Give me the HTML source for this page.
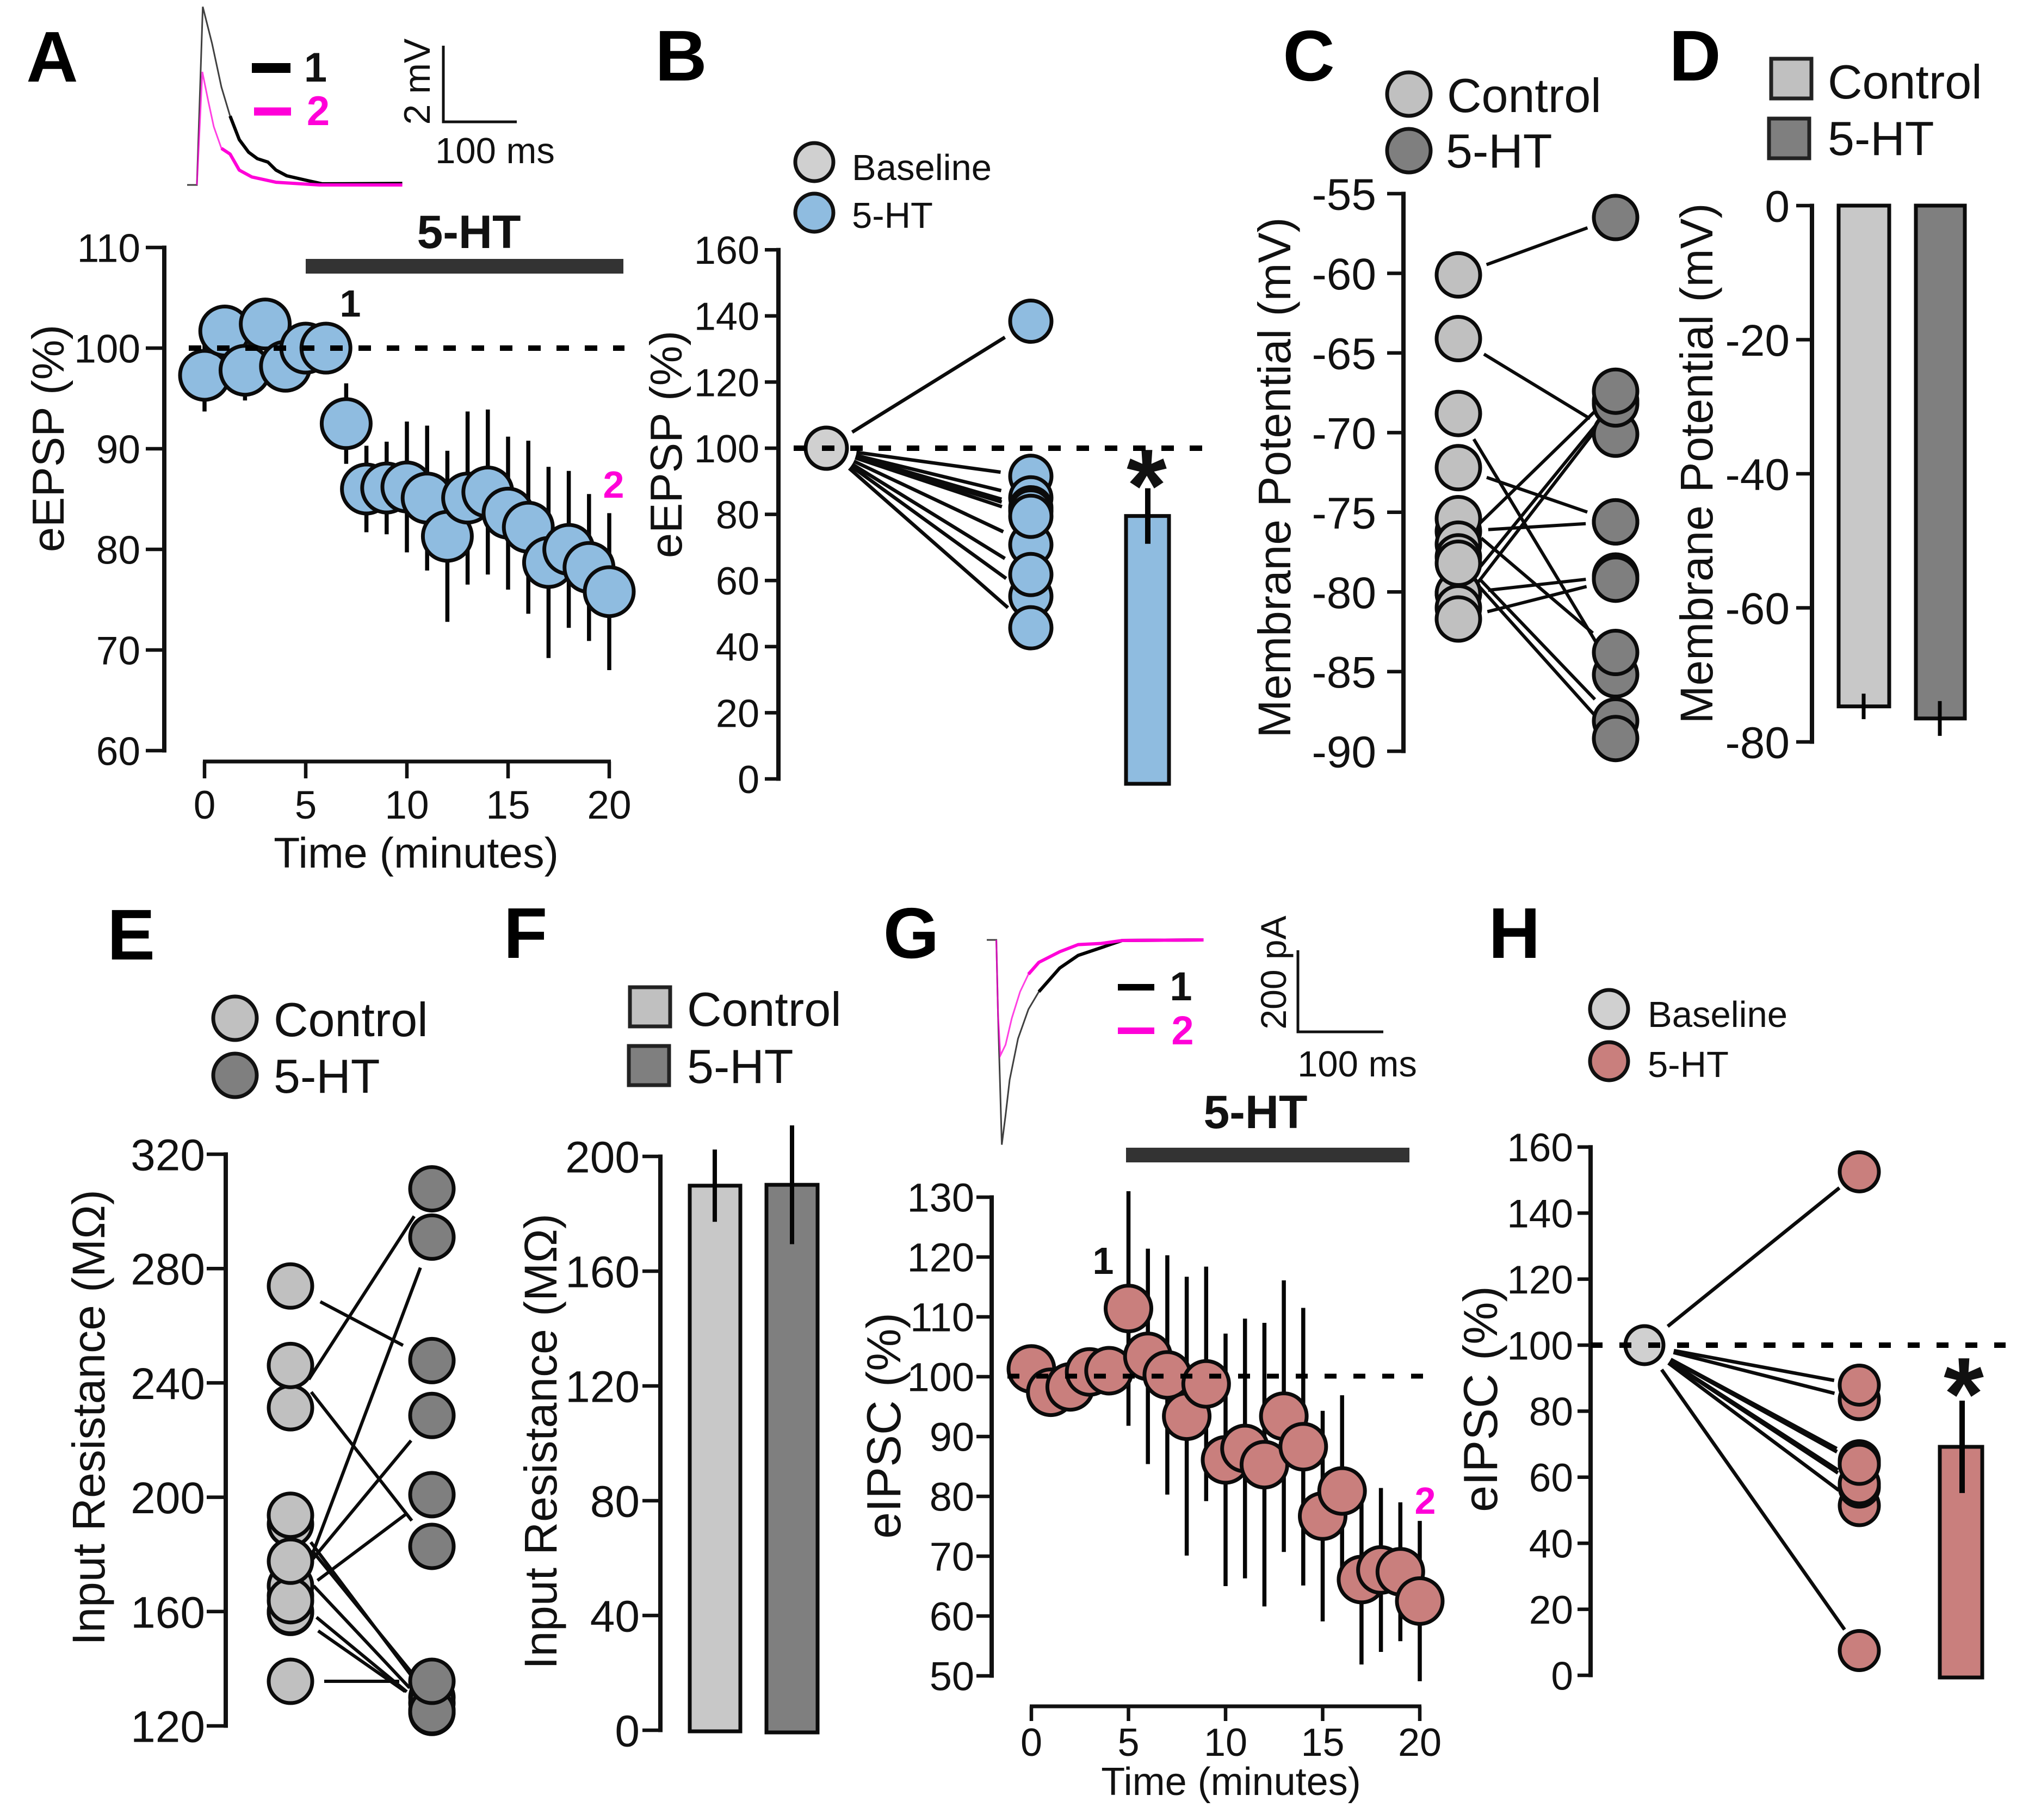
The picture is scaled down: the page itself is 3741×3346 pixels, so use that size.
<!DOCTYPE html>
<html lang="en">
<head>
<meta charset="utf-8">
<title>5-HT effects on eEPSP and eIPSC</title>
<style>
html,body{margin:0;padding:0;background:#fff;}
svg{display:block;}
text{font-family:"Liberation Sans",sans-serif;fill:#111;}
.letter{font-size:132px;font-weight:700;fill:#000;}
.bold{font-weight:700;}
.pink{fill:#ff00d8;}
</style>
</head>
<body>
<svg id="figure" xmlns="http://www.w3.org/2000/svg" width="3741" height="3346" viewBox="0 0 3741 3346">
<rect x="0" y="0" width="3741" height="3346" fill="#ffffff"/>

<g id="panel-a">
  <text class="letter" x="96" y="150" text-anchor="middle">A</text>
  <line x1="463" y1="125" x2="534" y2="125" stroke="#000" stroke-width="18"/>
  <text class="bold" x="580" y="150" font-size="76" text-anchor="middle">1</text>
  <line x1="467" y1="205" x2="535" y2="205" stroke="#ff00d8" stroke-width="15"/>
  <text class="bold pink" x="585" y="230" font-size="76" text-anchor="middle">2</text>
  <path d="M815 84V224H950" fill="none" stroke="#111" stroke-width="5"/>
  <text x="790" y="150" font-size="68" text-anchor="middle" transform="rotate(-90 790 150)">2 mV</text>
  <text x="910" y="300" font-size="67" text-anchor="middle">100 ms</text>
  <rect x="562" y="476" width="584" height="27" fill="#333"/>
  <text class="bold" x="862" y="456" font-size="86" text-anchor="middle">5-HT</text>
  <text class="bold" x="644" y="582" font-size="70" text-anchor="middle">1</text>
  <text class="bold pink" x="1128" y="915" font-size="70" text-anchor="middle">2</text>
  <text x="117" y="806" font-size="83" text-anchor="middle" transform="rotate(-90 117 806)">eEPSP (%)</text>
  <text x="765" y="1595" font-size="79" text-anchor="middle">Time (minutes)</text>
</g>

<g id="panel-b">
  <text class="letter" x="1252" y="148" text-anchor="middle">B</text>
  <circle cx="1497" cy="298" r="35" fill="#d0d0d0" stroke="#111" stroke-width="7"/>
  <circle cx="1497" cy="391" r="35" fill="#8fbce0" stroke="#111" stroke-width="7"/>
  <text x="1566" y="331" font-size="67">Baseline</text>
  <text x="1566" y="419" font-size="67">5-HT</text>
  <text x="1253" y="817" font-size="83" text-anchor="middle" transform="rotate(-90 1253 817)">eEPSP (%)</text>
  <text class="bold" x="2108" y="958" font-size="190" text-anchor="middle">*</text>
</g>

<g id="panel-c">
  <text class="letter" x="2406" y="148" text-anchor="middle">C</text>
  <circle cx="2590" cy="173" r="40" fill="#c0c0c0" stroke="#111" stroke-width="7"/>
  <circle cx="2590" cy="277" r="40" fill="#7f7f7f" stroke="#111" stroke-width="7"/>
  <text x="2660" y="206" font-size="88">Control</text>
  <text x="2658" y="308" font-size="88">5-HT</text>
  <text x="2372" y="878" font-size="84" text-anchor="middle" transform="rotate(-90 2372 878)">Membrane Potential (mV)</text>
</g>

<g id="panel-d">
  <text class="letter" x="3116" y="148" text-anchor="middle">D</text>
  <rect x="3256" y="108" width="74" height="73" fill="#c0c0c0" stroke="#222" stroke-width="7"/>
  <rect x="3252" y="218" width="74" height="73" fill="#7f7f7f" stroke="#222" stroke-width="7"/>
  <text x="3360" y="181" font-size="88">Control</text>
  <text x="3360" y="285" font-size="88">5-HT</text>
  <text x="3148" y="852" font-size="84" text-anchor="middle" transform="rotate(-90 3148 852)">Membrane Potential (mV)</text>
</g>

<g id="panel-e">
  <text class="letter" x="241" y="1764" text-anchor="middle">E</text>
  <circle cx="432" cy="1872" r="40" fill="#c0c0c0" stroke="#111" stroke-width="7"/>
  <circle cx="432" cy="1977" r="40" fill="#7f7f7f" stroke="#111" stroke-width="7"/>
  <text x="503" y="1905" font-size="88">Control</text>
  <text x="503" y="2009" font-size="88">5-HT</text>
  <text x="192" y="2606" font-size="84" text-anchor="middle" transform="rotate(-90 192 2606)">Input Resistance (MΩ)</text>
</g>

<g id="panel-f">
  <text class="letter" x="966" y="1761" text-anchor="middle">F</text>
  <rect x="1158" y="1815" width="74" height="72" fill="#c0c0c0" stroke="#222" stroke-width="7"/>
  <rect x="1156" y="1923" width="74" height="72" fill="#7f7f7f" stroke="#222" stroke-width="7"/>
  <text x="1263" y="1886" font-size="88">Control</text>
  <text x="1263" y="1991" font-size="88">5-HT</text>
  <text x="1023" y="2650" font-size="84" text-anchor="middle" transform="rotate(-90 1023 2650)">Input Resistance (MΩ)</text>
</g>

<g id="panel-g">
  <text class="letter" x="1675" y="1761" text-anchor="middle">G</text>
  <line x1="2055" y1="1815" x2="2122" y2="1815" stroke="#000" stroke-width="12"/>
  <text class="bold" x="2171" y="1839" font-size="74" text-anchor="middle">1</text>
  <line x1="2055" y1="1895" x2="2122" y2="1895" stroke="#ff00d8" stroke-width="12"/>
  <text class="bold pink" x="2174" y="1920" font-size="74" text-anchor="middle">2</text>
  <path d="M2386 1747V1897H2543" fill="none" stroke="#111" stroke-width="5"/>
  <text x="2364" y="1788" font-size="66" text-anchor="middle" transform="rotate(-90 2364 1788)">200 pA</text>
  <text x="2495" y="1979" font-size="67" text-anchor="middle">100 ms</text>
  <rect x="2070" y="2110" width="521" height="27" fill="#333"/>
  <text class="bold" x="2308" y="2074" font-size="86" text-anchor="middle">5-HT</text>
  <text class="bold" x="2028" y="2342" font-size="70" text-anchor="middle">1</text>
  <text class="bold pink" x="2620" y="2783" font-size="70" text-anchor="middle">2</text>
  <text x="1655" y="2621" font-size="88" text-anchor="middle" transform="rotate(-90 1655 2621)">eIPSC (%)</text>
  <text x="2263" y="3300" font-size="72" text-anchor="middle">Time (minutes)</text>
</g>

<g id="panel-h">
  <text class="letter" x="2784" y="1761" text-anchor="middle">H</text>
  <circle cx="2958" cy="1855" r="35" fill="#d0d0d0" stroke="#111" stroke-width="7"/>
  <circle cx="2958" cy="1951" r="35" fill="#c97f7d" stroke="#111" stroke-width="7"/>
  <text x="3029" y="1888" font-size="67">Baseline</text>
  <text x="3029" y="1980" font-size="67">5-HT</text>
  <text x="2752" y="2572" font-size="88" text-anchor="middle" transform="rotate(-90 2752 2572)">eIPSC (%)</text>
  <text class="bold" x="3610" y="2628" font-size="190" text-anchor="middle">*</text>
</g>
</svg>

<script>
// ---- Panel A data ----
const aTimes = [0,1,2,3,4,5,6,7,8,9,10,11,12,13,14,15,16,17,18,19,20];
const aValues = [97.3,101.7,97.8,102.4,98.2,100,100,92.5,86,86.1,86.2,85.1,81.3,85.1,85.7,83.6,82.2,78.7,80,78.2,75.8];
const aErrors = [3.6,2,3,2,2.5,1.5,1.5,4,4.3,4.6,6.5,7.2,8.5,8.6,8.2,7.6,8.6,9.5,7.8,7.3,7.8];
const aYTicks = [60,70,80,90,100,110];
const aXTicks = [0,5,10,15,20];
const aTrace1Ms = [0,13.3,21.3,34,46.7,58.5,71,83.7,95.6,110,121,135.6,165,184,293];
const aTrace1Mv = [0,0,4.68,3.71,2.57,1.81,1.19,0.86,0.69,0.6,0.39,0.24,0.11,0.03,0.04];
const aTrace2Ms = [13.3,20.7,28.9,36.3,46.7,58.5,71,88,121,180,293];
const aTrace2Mv = [0,2.97,2.19,1.53,0.96,0.81,0.39,0.21,0.07,0,0];

// ---- Panel B data ----
const bYTicks = [0,20,40,60,80,100,120,140,160];
const bSerotonin = [138.4,91.5,85,82,81,70.8,55.2,79.4,61.8,45.7];
const bBaseline = 100;
const bMean = 79.5;
const bSem = 8.4;

// ---- Panel C data ----
const cYTicks = [-55,-60,-65,-70,-75,-80,-85,-90];
const cControl = [-60.1,-64.1,-68.8,-72.2,-76.2,-80.1,-80.1,-81,-75.4,-77,-77.8,-78.2,-81.7];
const cSerotonin = [-56.5,-70.1,-85.2,-75.6,-75.6,-79,-68,-68.2,-83.8,-67.4,-88.1,-89.2,-79.2];

// ---- Panel D data ----
const dYTicks = [0,-20,-40,-60,-80];
const dMeans = [-74.7,-76.5];
const dSems = [1.9,2.6];

// ---- Panel E data ----
const eYTicks = [120,160,200,240,280,320];
const eControl = [231.3,246.1,273.9,159.7,160,165.5,169,163.8,190.6,193.7,177.6,135.6];
const eSerotonin = [307.9,182.8,247.8,291,125.5,124.7,228.6,200.9,130,128,125,135.6];

// ---- Panel F data ----
const fYTicks = [0,40,80,120,160,200];
const fMeans = [189.8,190.1];
const fSems = [12.6,20.7];

// ---- Panel G data ----
const gTimes = [0,1,2,3,4,5,6,7,8,9,10,11,12,13,14,15,16,17,18,19,20];
const gValues = [101.3,97.4,98.3,100.8,101,111.4,103.4,100.3,93.4,98.8,86.1,88,85.3,93.4,88.3,76.7,80.9,66.1,67.7,67.4,62.5];
const gErrors = [2,2,2,2,2,19.6,18,20,23.3,19.6,21.1,21.7,23.7,22.7,23.2,17.6,16,14.2,13.7,11.6,13.4];
const gYTicks = [50,60,70,80,90,100,110,120,130];
const gXTicks = [0,5,10,15,20];
const gTrace1Ms = [0,11.2,13.2,17.6,22,26.8,36.6,48.8,61,85.4,107,134,158.5,253.7];
const gTrace1Pa = [0,0,-185,-502,-430,-343,-242,-170,-127,-69,-38,-19,-1.4,0];
const gTrace2Ms = [11.2,13.2,16,22,29.3,39,48.8,61,85.4,107,134,158.5,253.7];
const gTrace2Pa = [0,-185,-283,-257,-192,-127,-84,-55,-29,-11.5,-8.7,-1.4,0];

// ---- Panel H data ----
const hYTicks = [0,20,40,60,80,100,120,140,160];
const hSerotonin = [152.5,83.5,87.9,51.4,57,58,65,64,63.9,7.5];
const hBaseline = 100;
const hMean = 69.2;
const hSem = 14;

// ---- Axis functions ----
const aX = t => 376 + t * 37.2;
const aY = v => 640 - (v - 100) * 18.5;
const bY = v => 1432 - v * 6.08;
const cY = v => 356 + (-55 - v) * 29.29;
const dY = v => 378 - v * 12.325;
const eY = v => 3173 - (v - 120) * 5.255;
const fY = v => 3181 - v * 5.275;
const gX = t => 1896 + t * 35.7;
const gY = v => 2531 - (v - 100) * 11.0;
const hY = v => 3080 - v * 6.07;

const NS = 'http://www.w3.org/2000/svg';
const INK = '#111';
const BLUE = '#8fbce0';
const ROSE = '#c97f7d';
const GREY = '#d0d0d0';
const LIGHT = '#c0c0c0';
const DARK = '#7f7f7f';

function mk(parent, tag, props) {
  const el = document.createElementNS(NS, tag);
  for (const k in props) el.setAttribute(k, props[k]);
  parent.appendChild(el);
  return el;
}

function yAxis(g, ticks, y, axisX, tickLeft, labelRight, fontSize) {
  const ys = ticks.map(y);
  const spine = mk(g, 'line', {x1: axisX, x2: axisX, y1: Math.min(...ys) - 3.5, y2: Math.max(...ys) + 3.5, stroke: INK, 'stroke-width': 8});
  
  
  ticks.forEach(v => {
    const tick = mk(g, 'line', {x1: tickLeft, x2: axisX, y1: y(v), y2: y(v), stroke: INK, 'stroke-width': 6.5});
    
    
    const label = mk(g, 'text', {x: labelRight, y: y(v) + fontSize * 0.36, 'font-size': fontSize, 'text-anchor': 'end'});
    label.textContent = String(v);
    
    
  });
}

function xAxis(g, ticks, x, axisY, tickBottom, labelBase, fontSize) {
  const xs = ticks.map(x);
  const spine = mk(g, 'line', {x1: Math.min(...xs) - 3, x2: Math.max(...xs) + 3, y1: axisY, y2: axisY, stroke: INK, 'stroke-width': 7});
  
  
  ticks.forEach(t => {
    const tick = mk(g, 'line', {x1: x(t), x2: x(t), y1: axisY, y2: tickBottom, stroke: INK, 'stroke-width': 6.5});
    
    
    const label = mk(g, 'text', {x: x(t), y: labelBase, 'font-size': fontSize, 'text-anchor': 'middle'});
    label.textContent = String(t);
    
    
  });
}

function dashLine(g, x1, x2, y, on, off, width) {
  const el = mk(g, 'line', {x1: x1, x2: x2, y1: y, y2: y, stroke: '#000', 'stroke-width': width, 'stroke-dasharray': on + ' ' + off});
  
  
}

function errorBar(g, cx, y, mean, sem, width) {
  const el = mk(g, 'line', {x1: cx, x2: cx, y1: y(mean + sem), y2: y(mean - sem), stroke: '#050505', 'stroke-width': width});
  
  
}

function point(g, cx, cy, r, fill) {
  const el = mk(g, 'circle', {cx: cx, cy: cy, r: r, fill: fill, stroke: '#0b0b0b', 'stroke-width': 7});
  
  
}

function bar(g, left, right, baseY, topY, fill) {
  const el = mk(g, 'rect', {x: left, y: Math.min(baseY, topY), width: right - left, height: Math.abs(baseY - topY), fill: fill, stroke: '#0b0b0b', 'stroke-width': 7});
  
  
}

// Paired line with a clear gap (measured along the line) next to each marker.
function pairLine(g, xA, xB, yA, yB, gapA, gapB, width) {
  const len = Math.hypot(xB - xA, yB - yA);
  const ux = (xB - xA) / len, uy = (yB - yA) / len;
  const el = mk(g, 'line', {x1: xA + ux * gapA, y1: yA + uy * gapA, x2: xB - ux * gapB, y2: yB - uy * gapB, stroke: '#0b0b0b', 'stroke-width': width});
  
  
}

function trace(g, times, amps, x0, y0, sx, sy, color, thickAfter) {
  const pts = times.map((t, i) => (x0 + t * sx) + ',' + (y0 - amps[i] * sy));
  const thin = mk(g, 'polyline', {points: pts.join(' '), fill: 'none', stroke: color, 'stroke-width': 3, 'stroke-opacity': 0.75});
  
  
  const tail = pts.filter((p, i) => times[i] >= thickAfter);
  const thick = mk(g, 'polyline', {points: tail.join(' '), fill: 'none', stroke: color, 'stroke-width': 6, 'stroke-linejoin': 'round'});
  
  
}

function timeCourse(g, times, values, errors, x, y, r, fill) {
  times.forEach((t, i) => errorBar(g, x(t), y, values[i], errors[i], 7.5));
  times.forEach((t, i) => point(g, x(t), y(values[i]), r, fill));
}

// ---- Panel A ----
const gA = document.getElementById('panel-a');
trace(gA, aTrace1Ms, aTrace1Mv, 344, 340, 1.35, 70, '#000', 58);
trace(gA, aTrace2Ms, aTrace2Mv, 344, 340, 1.35, 70, '#ff00d8', 46);
yAxis(gA, aYTicks, aY, 302, 268, 258, 73);
xAxis(gA, aXTicks, aX, 1400, 1431, 1505, 73);
timeCourse(gA, aTimes, aValues, aErrors, aX, aY, 45, BLUE);
dashLine(gA, 347, 1148, aY(100), 23, 29, 10);

// ---- Panel B ----
const gB = document.getElementById('panel-b');
const bBaseX = 1519, bTreatX = 1895;
yAxis(gB, bYTicks, bY, 1431, 1406, 1396, 72);
bSerotonin.forEach(v => pairLine(gB, bBaseX, bTreatX, bY(bBaseline), bY(v), 56, 56, 6.5));
bSerotonin.forEach(v => point(gB, bTreatX, bY(v), 38, BLUE));
bar(gB, 2070, 2149, 1441, bY(bMean), BLUE);
errorBar(gB, 2110, bY, bMean, bSem, 10);
point(gB, bBaseX, bY(bBaseline), 38, GREY);
dashLine(gB, 1459, 2216, bY(bBaseline), 23, 29, 10);

// ---- Panel C ----
const gC = document.getElementById('panel-c');
const cCtrlX = 2681, cTreatX = 2970;
yAxis(gC, cYTicks, cY, 2580, 2550, 2530, 82);
cControl.forEach((v, i) => pairLine(gC, cCtrlX, cTreatX, cY(v), cY(cSerotonin[i]), 55, 55, 6));
cControl.forEach(v => point(gC, cCtrlX, cY(v), 40, LIGHT));
cSerotonin.forEach(v => point(gC, cTreatX, cY(v), 40, DARK));

// ---- Panel D ----
const gD = document.getElementById('panel-d');
yAxis(gD, dYTicks, dY, 3331, 3302, 3290, 82);
bar(gD, 3380, 3473, dY(0), dY(dMeans[0]), '#c8c8c8');
bar(gD, 3522, 3612, dY(0), dY(dMeans[1]), DARK);
errorBar(gD, 3426, dY, dMeans[0], dSems[0], 7);
errorBar(gD, 3566, dY, dMeans[1], dSems[1], 7);

// ---- Panel E ----
const gE = document.getElementById('panel-e');
const eCtrlX = 534, eTreatX = 794;
yAxis(gE, eYTicks, eY, 415, 380, 377, 82);
eControl.forEach((v, i) => pairLine(gE, eCtrlX, eTreatX, eY(v), eY(eSerotonin[i]), 62, 60, 6));
eControl.forEach(v => point(gE, eCtrlX, eY(v), 40, LIGHT));
eSerotonin.forEach(v => point(gE, eTreatX, eY(v), 40, DARK));

// ---- Panel F ----
const gF = document.getElementById('panel-f');
yAxis(gF, fYTicks, fY, 1214, 1181, 1176, 82);
bar(gF, 1268, 1361, 3183, fY(fMeans[0]), '#c8c8c8');
bar(gF, 1409, 1503, 3185, fY(fMeans[1]), DARK);
errorBar(gF, 1314, fY, fMeans[0], fSems[0], 8);
errorBar(gF, 1456, fY, fMeans[1], fSems[1], 8);

// ---- Panel G ----
const gG = document.getElementById('panel-g');
trace(gG, gTrace1Ms, gTrace1Pa, 1814, 1728, 1.57, 0.75, '#000', 50);
trace(gG, gTrace2Ms, gTrace2Pa, 1814, 1728, 1.57, 0.75, '#ff00d8', 40);
yAxis(gG, gYTicks, gY, 1823, 1795, 1791, 74);
xAxis(gG, gXTicks, gX, 3137, 3164, 3228, 72);
timeCourse(gG, gTimes, gValues, gErrors, gX, gY, 42, ROSE);
dashLine(gG, 1852, 2621, gY(100) - 1, 22, 31, 9);

// ---- Panel H ----
const gH = document.getElementById('panel-h');
const hBaseX = 3023, hTreatX = 3418;
yAxis(gH, hYTicks, hY, 2924, 2900, 2892, 73);
hSerotonin.forEach(v => pairLine(gH, hBaseX, hTreatX, hY(hBaseline), hY(v), 55, 47, 6.5));
hSerotonin.forEach(v => point(gH, hTreatX, hY(v), 36, ROSE));
bar(gH, 3566, 3644, 3084, hY(hMean), ROSE);
errorBar(gH, 3607, hY, hMean, hSem, 10);
point(gH, hBaseX, hY(hBaseline), 35, GREY);
dashLine(gH, 2924, 3687, hY(hBaseline), 22, 31, 10);
</script>
</body>
</html>
